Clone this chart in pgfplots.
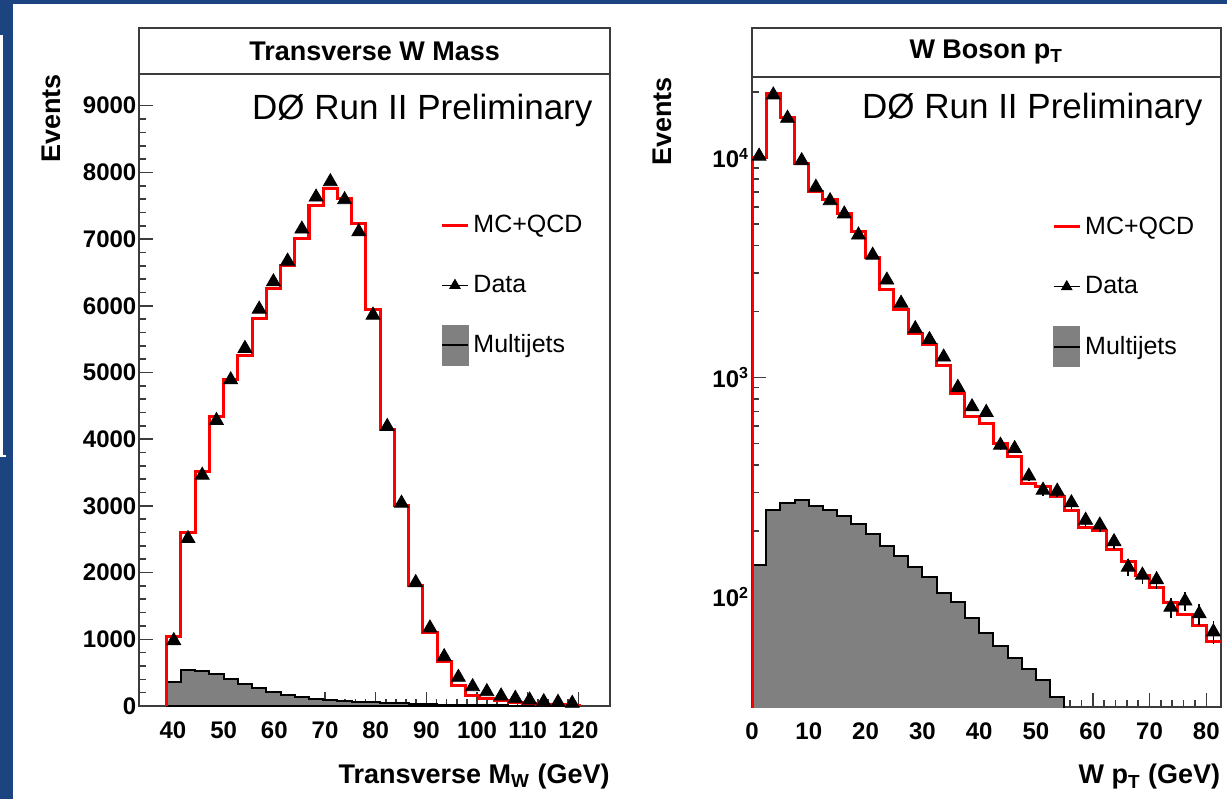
\documentclass[border=0pt]{standalone}
\usepackage{pgfplots}
\pgfplotsset{compat=1.18}
\usepackage{pgfplotstable}
\usepackage{fontspec}
\setmainfont{Liberation Sans}
\definecolor{bgblue}{RGB}{28,68,128}
\definecolor{histgray}{RGB}{128,128,128}
\definecolor{framecol}{RGB}{60,60,60}

% Transverse W mass: right bin edge, bin centre, MC+QCD, data, multijets
\pgfplotstableread{
e c mc data qcd
38.76 nan 0 nan 0
41.57 40.16 1040 980 355
44.37 42.97 2600 2510 540
47.18 45.77 3510 3460 530
49.99 48.58 4340 4280 480
52.80 51.39 4900 4890 400
55.61 54.20 5260 5360 325
58.42 57.01 5810 5950 265
61.22 59.82 6260 6360 215
64.03 62.62 6610 6670 165
66.84 65.43 7010 7150 130
69.65 68.24 7510 7630 105
72.46 71.05 7760 7860 90
75.27 73.86 7610 7590 80
78.07 76.67 7230 7110 65
80.88 79.47 5940 5860 55
83.69 82.28 4150 4190 45
86.50 85.09 3010 3040 38
89.31 87.90 1810 1850 30
92.12 90.71 1100 1170 25
94.92 93.52 660 740 20
97.73 96.32 315 430 16
100.54 99.13 165 290 13
103.35 101.94 115 215 10
106.16 104.75 80 150 8
108.97 107.56 55 115 6
111.77 110.37 40 90 5
114.58 113.17 30 65 4
117.39 115.98 20 55 3
120.20 118.79 15 40 2
120.20 nan 0 nan 0
}\mtdata

% W boson pT: right bin edge, bin centre, MC+QCD, data, data error, multijets
\pgfplotstableread{
e c mc data err qcd
0 nan 1 nan nan 1
2.5 1.25 10070 10200 101 140
5 3.75 19700 19370 139 249
7.5 6.25 15300 15170 123 269
10 8.75 9460 9720 99 277
12.5 11.25 7020 7360 86 260
15 13.75 6490 6390 80 249
17.5 16.25 5560 5560 75 234
20 18.75 4620 4460 67 215
22.5 21.25 3530 3610 60 194
25 23.75 2520 2780 53 171
27.5 26.25 2050 2180 47 154
30 28.75 1590 1670 41 137
32.5 31.25 1420 1490 39 123
35 33.75 1130 1240 35 105
37.5 36.25 848 902 30 95
40 38.75 668 736 27 80
42.5 41.25 618 694 26 69
45 43.75 500 492 22 60
47.5 46.25 439 475 22 53
50 48.75 330 356 19 47
52.5 51.25 318 307 18 42
55 53.75 288 304 17 35
57.5 56.25 249 269 16 1
60 58.75 208 224 15 1
62.5 61.25 201 213 15 1
65 63.75 164 179 13 1
67.5 66.25 145 137 12 1
70 68.75 126 126 11 1
72.5 71.25 111 120 11 1
75 73.75 95 90 9.5 1
77.5 76.25 83 96 9.8 1
80 78.75 74.5 84 9.2 1
82.5 81.25 63 69.5 8.3 1
}\ptdata

\pgfplotsset{
  rootstyle/.style={
    scale only axis,
    tick pos=left,
    tick align=inside,
    axis line style={framecol, line width=1pt},
    tick style={framecol, line width=0.8pt},
    major tick length=7pt,
    minor tick length=3.5pt,
    tick label style={font=\fontsize{12}{14}\selectfont\bfseries, inner sep=0pt},
    /pgf/number format/assume math mode=true,
    /pgf/number format/1000 sep={},
    xticklabel style={yshift=-7.5pt},
    yticklabel style={xshift=-1.3pt},
    label style={font=\fontsize{13.5}{16}\selectfont\bfseries, inner sep=0pt},
    legend style={draw=none, fill=none, inner sep=0pt, row sep=9.5pt,
      font=\fontsize{12.5}{15}\selectfont, nodes={inner xsep=2pt, inner ysep=0pt}},
    legend cell align=left,
  },
  mclegend/.style={legend image code/.code={
    \draw[red, line width=1.5pt] (0pt,0pt) -- (13pt,0pt);
    \path (0pt,-10pt) (0pt,10pt);}},
  datalegend/.style={legend image code/.code={
    \draw[black, line width=0.7pt] (0pt,0pt) -- (13pt,0pt);
    \draw[black, mark=triangle*, mark size=3pt, mark options={fill=black}] plot coordinates {(6.5pt,0pt)};
    \path (0pt,-10pt) (0pt,10pt);}},
  qcdlegend/.style={legend image code/.code={
    \fill[histgray] (0pt,-10pt) rectangle (13pt,10pt);
    \draw[black, line width=1pt] (0pt,0pt) -- (13pt,0pt);}},
}

\begin{document}
\begin{tikzpicture}
\begin{scope}[x=0.5pt, y=-0.5pt]
  \useasboundingbox (0,0) rectangle (1227,799);
  \fill[bgblue] (0,0) rectangle (1227,799);
  \fill[white] (13,4) rectangle (1227,799);
  \draw[white, line width=1.2pt] (1.5,35) -- (1.5,456) -- (6,456);
\end{scope}

% ---------------- left: transverse W mass ----------------
\begin{axis}[rootstyle,
  at={(69.65pt,-353pt)}, anchor=south west,
  width=235.35pt, height=316pt,
  xmin=33.35, xmax=126.24, ymin=0, ymax=9475,
  xtick={40,50,...,120}, minor x tick num=4,
  ytick={0,1000,...,9000}, minor y tick num=4,
  xlabel={Transverse M\textsubscript{W} (GeV)},
  ylabel={Events},
  xlabel style={at={(rel axis cs:1,-0.111)}, anchor=east},
  ylabel style={at={(rel axis cs:-0.166,1)}, anchor=south east},
  legend style={at={(rel axis cs:0.639,0.793)}, anchor=north west},
]
\addplot[const plot mark right, draw=black, line width=1pt, fill=histgray, forget plot]
  table[x=e, y=qcd]{\mtdata} \closedcycle;
\addplot[const plot mark right, red, line width=1.5pt, forget plot]
  table[x=e, y=mc]{\mtdata};
\addplot[only marks, mark=triangle*, mark size=4pt, black, mark options={fill=black}, forget plot]
  table[x=c, y=data]{\mtdata};
\node[anchor=west, font=\fontsize{17.5}{20}\selectfont] at (rel axis cs:0.2246,0.943) {DØ Run II Preliminary};
\addlegendimage{mclegend}\addlegendentry{MC+QCD}
\addlegendimage{datalegend}\addlegendentry{Data}
\addlegendimage{qcdlegend}\addlegendentry{Multijets}
\end{axis}

% ---------------- right: W boson pT ----------------
\begin{axis}[rootstyle,
  at={(376pt,-353.5pt)}, anchor=south west,
  width=234.25pt, height=315pt,
  ymode=log,
  xmin=0, xmax=82.5, ymin=31.6, ymax=23390,
  xtick={0,10,...,80}, minor x tick num=4,
  ytick={100,1000,10000},
  yticklabels={10\textsuperscript{2},10\textsuperscript{3},10\textsuperscript{4}},
  minor ytick={40,50,60,70,80,90,200,300,400,500,600,700,800,900,2000,3000,4000,5000,6000,7000,8000,9000,20000},
  xlabel={W p\textsubscript{T} (GeV)},
  ylabel={Events},
  xlabel style={at={(rel axis cs:1,-0.111)}, anchor=east},
  ylabel style={at={(rel axis cs:-0.171,1)}, anchor=south east},
  legend style={at={(rel axis cs:0.640,0.795)}, anchor=north west},
]
\addplot[const plot mark right, draw=black, line width=1pt, fill=histgray, forget plot]
  table[x=e, y=qcd]{\ptdata} \closedcycle;
\addplot[const plot mark right, red, line width=1.5pt, forget plot]
  table[x=e, y=mc]{\ptdata};
\addplot[only marks, mark=triangle*, mark size=4pt, black, mark options={fill=black}, forget plot,
  error bars/.cd, y dir=both, y explicit, error mark=none,
  error bar style={line width=0.8pt, black}]
  table[x=c, y=data, y error=err]{\ptdata};
\node[anchor=west, font=\fontsize{17.5}{20}\selectfont] at (rel axis cs:0.22,0.948) {DØ Run II Preliminary};
\addlegendimage{mclegend}\addlegendentry{MC+QCD}
\addlegendimage{datalegend}\addlegendentry{Data}
\addlegendimage{qcdlegend}\addlegendentry{Multijets}
\end{axis}

\begin{scope}[x=0.5pt, y=-0.5pt]
  \draw[framecol, line width=1pt] (139.3,28) rectangle (610,74);
  \node[font=\fontsize{13.5}{16}\selectfont\bfseries] at (374.65,51) {Transverse W Mass};
  \draw[framecol, line width=1pt] (752,28) rectangle (1220.5,77);
  \node[font=\fontsize{13.5}{16}\selectfont\bfseries] at (986.25,52) {W Boson p\textsubscript{T}};
\end{scope}
\end{tikzpicture}
\end{document}
